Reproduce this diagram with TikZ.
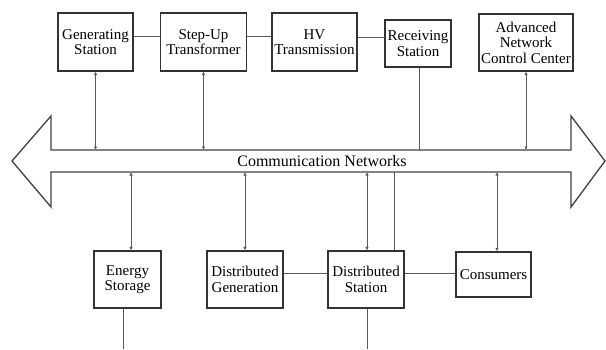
\documentclass[tikz,border=0pt]{standalone}
\usepackage{fontspec}
\setmainfont{Liberation Serif}
\usetikzlibrary{arrows.meta}

\begin{document}
\begin{tikzpicture}[x=1pt,y=-1pt,
	block/.style={draw=black!80,line width=1.3pt,align=center,inner sep=0pt,font=\fontsize{15}{15.5}\selectfont},
	link/.style={draw=black!65,line width=0.9pt},
	duplex/.style={link,{Latex[length=3.5pt,width=3.5pt]}-{Latex[length=3.5pt,width=3.5pt]}}]
	\useasboundingbox (0,0) rectangle (606,349);
	% top row
	\node[block,minimum width=75pt,minimum height=58pt] (gen) at (95.5,42) {Generating\\Station};
	\node[block,minimum width=86pt,minimum height=58pt] (stepup) at (203.5,42) {Step-Up\\Transformer};
	\node[block,minimum width=85pt,minimum height=58pt] (hv) at (314.5,42) {HV\\Transmission};
	\node[block,minimum width=66pt,minimum height=47pt] (recv) at (418,43.5) {Receiving\\Station};
	\node[block,minimum width=94pt,minimum height=57pt] (ancc) at (526,42.5) {Advanced\\Network\\Control Center};
	\draw[link] ([yshift=6pt]gen.east) -- ([yshift=6pt]stepup.west);
	\draw[link] ([yshift=6pt]stepup.east) -- ([yshift=6pt]hv.west);
	\draw[link] ([yshift=5pt]hv.east) -- ([yshift=5pt]hv.east -| recv.west);
	% the network arrow
	\draw[draw=black!75,line width=1.3pt] (12,161) -- (51,116) -- (51,150) -- (571,150) -- (571,116)
		-- (605,161) -- (571,207) -- (571,172) -- (51,172) -- (51,207) -- cycle;
	\node[font=\fontsize{16}{17}\selectfont] (net) at (322,161) {Communication Networks};
	\coordinate (nettop) at (0,150);
	\coordinate (netbot) at (0,172);
	\draw[duplex] (gen.south) -- (gen.south |- nettop);
	\draw[duplex] (stepup.south) -- (stepup.south |- nettop);
	\draw[link] ([xshift=1pt]recv.south) -- ([xshift=1pt]recv.south |- nettop);
	\draw[duplex] (ancc.south) -- (ancc.south |- nettop);
	% bottom row
	\node[block,minimum width=67pt,minimum height=57pt] (es) at (127.5,279.5) {Energy\\Storage};
	\node[block,minimum width=76pt,minimum height=57pt] (dg) at (245,279.5) {Distributed\\Generation};
	\node[block,minimum width=76pt,minimum height=57pt] (ds) at (366,279.5) {Distributed\\Station};
	\node[block,minimum width=75pt,minimum height=45pt] (cons) at (493.5,274.5) {Consumers};
	\draw[link] ([yshift=6pt]dg.east) -- ([yshift=6pt]ds.west);
	\draw[link] ([yshift=6pt]ds.east) -- ([yshift=6pt]ds.east -| cons.west);
	\draw[duplex] ([xshift=3.5pt]es.north |- netbot) -- ([xshift=3.5pt]es.north);
	\draw[duplex] (dg.north |- netbot) -- (dg.north);
	\draw[duplex] ([xshift=1pt]ds.north |- netbot) -- ([xshift=1pt]ds.north);
	\draw[link] ([xshift=28pt]ds.north |- netbot) -- ([xshift=28pt]ds.north);
	\draw[duplex] ([xshift=3.5pt]cons.north |- netbot) -- ([xshift=3.5pt]cons.north);
	% feeders leaving the page
	\coordinate (esout) at (123,349);
	\coordinate (dsout) at (367,349);
	\draw[link] (es.south -| esout) -- (esout);
	\draw[link] (ds.south -| dsout) -- (dsout);
\end{tikzpicture}
\end{document}
